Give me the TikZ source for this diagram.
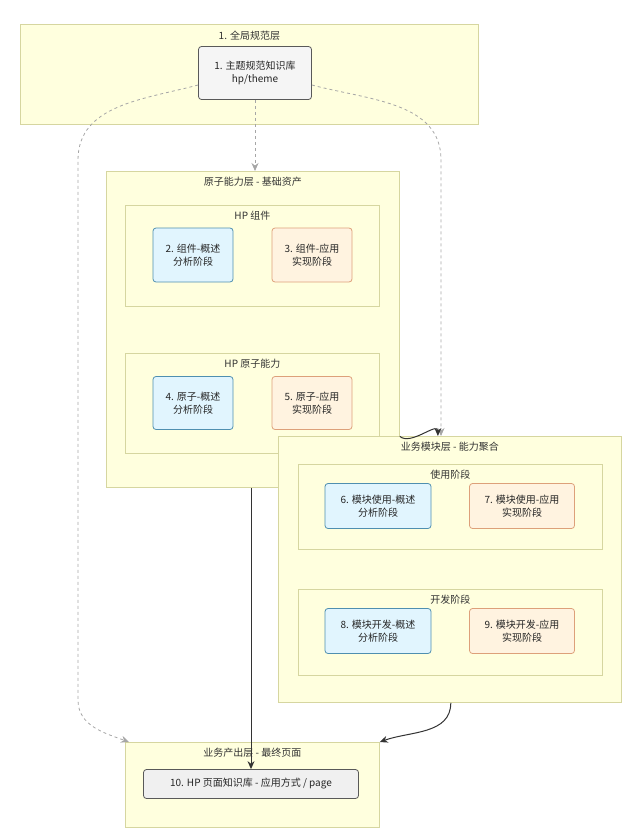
\documentclass[tikz,border=0pt]{standalone}
\usepackage{fontspec}
\setmainfont{Noto Sans CJK SC}
\usetikzlibrary{arrows.meta}
\definecolor{layerfill}{HTML}{FFFFDE}
\definecolor{layerline}{HTML}{D6D6A0}
\definecolor{bluefill}{HTML}{E1F5FE}
\definecolor{blueline}{HTML}{4F8FB0}
\definecolor{orangefill}{HTML}{FFF3E0}
\definecolor{orangeline}{HTML}{DDA07A}
\definecolor{greyfill}{HTML}{F0F0F0}
\definecolor{linkcolor}{HTML}{333333}

\begin{document}
\begin{tikzpicture}[
	x=1pt, y=-1pt,
	layer/.style={fill=layerfill, draw=layerline, line width=0.8pt},
	title/.style={font=\fontsize{10}{12}\selectfont, text=black!80},
	card/.style={rounded corners=3pt, line width=0.8pt, align=center,
		font=\fontsize{10}{13}\selectfont, text=black!85, inner sep=0pt},
	blue/.style={card, fill=bluefill, draw=blueline},
	orange/.style={card, fill=orangefill, draw=orangeline},
	link/.style={draw=linkcolor, line width=1pt, -{Stealth[length=8pt,width=7pt]}},
	weak/.style={link, draw=gray!70, dashed, line width=0.8pt},
]
\useasboundingbox (0,0) rectangle (640,832);
% \cluster{name}{x1}{y1}{x2}{y2}{title}
\def\cluster#1#2#3#4#5#6{
	\node[layer, minimum width=#4-#2, minimum height=#5-#3, anchor=north west,
		inner sep=0pt] (#1) at (#2,#3) {};
	\node[title, anchor=north] at ([yshift=-3pt]#1.north) (#1title) {#6};
}
	\cluster{global}{20}{24}{478}{124}{1. 全局规范层}
	\cluster{atom}{106}{171}{399}{487}{原子能力层 - 基础资产}
	\cluster{comp}{125}{205}{379}{306}{HP 组件}
	\cluster{ability}{125}{353}{379}{453}{HP 原子能力}
	\cluster{module}{278}{436}{621}{702}{业务模块层 - 能力聚合}
	\cluster{use}{298}{464}{602}{549}{使用阶段}
	\cluster{dev}{298}{589}{602}{675}{开发阶段}
	\cluster{output}{125}{742}{379}{827}{业务产出层 - 最终页面}

	\node[card, fill=gray!8, draw=gray!70!black, minimum width=113pt,
		minimum height=53pt] (theme) at (255,73) {1. 主题规范知识库\\hp/theme};
	\node[blue, minimum width=80pt, minimum height=54pt] (compA) at (193,255)
		{2. 组件-概述\\分析阶段};
	\node[orange, minimum width=80pt, minimum height=54pt] (compB) at (312,255)
		{3. 组件-应用\\实现阶段};
	\node[blue, minimum width=80pt, minimum height=53pt] (atomA) at (193,403)
		{4. 原子-概述\\分析阶段};
	\node[orange, minimum width=80pt, minimum height=53pt] (atomB) at (312,403)
		{5. 原子-应用\\实现阶段};
	\node[blue, minimum width=106pt, minimum height=45pt] (useA) at (378,506)
		{6. 模块使用-概述\\分析阶段};
	\node[orange, minimum width=105pt, minimum height=45pt] (useB) at (522,506)
		{7. 模块使用-应用\\实现阶段};
	\node[blue, minimum width=106pt, minimum height=45pt] (devA) at (378,631)
		{8. 模块开发-概述\\分析阶段};
	\node[orange, minimum width=105pt, minimum height=45pt] (devB) at (522,631)
		{9. 模块开发-应用\\实现阶段};
	\node[card, fill=greyfill, draw=gray!70!black, minimum width=215pt,
		minimum height=29pt] (page) at (251,784) {10. HP 页面知识库 - 应用方式 / page};

	\coordinate (leftbend) at (78,160);
	\coordinate (rightbend) at (441,160);
	\draw[weak] (theme.south) -- (atom.north -| theme.south);
	\draw[weak] ([yshift=-12pt]theme.west) to[out=195,in=90] (leftbend)
		-- (78,700) to[out=-90,in=160] ([xshift=4pt]output.north west);
	\draw[weak] ([yshift=-12pt]theme.east) to[out=-15,in=90] (rightbend)
		-- (module.north -| rightbend);
	\draw[link] (atom.south -| page.north) -- (page.north);
	\draw[link] ([yshift=-107pt]atom.east) to[out=-40,in=90] ([xshift=-12pt]module.north);
	\draw[link] ([xshift=-171pt]module.south east) to[out=-90,in=20] (output.north east);
\end{tikzpicture}
\end{document}
